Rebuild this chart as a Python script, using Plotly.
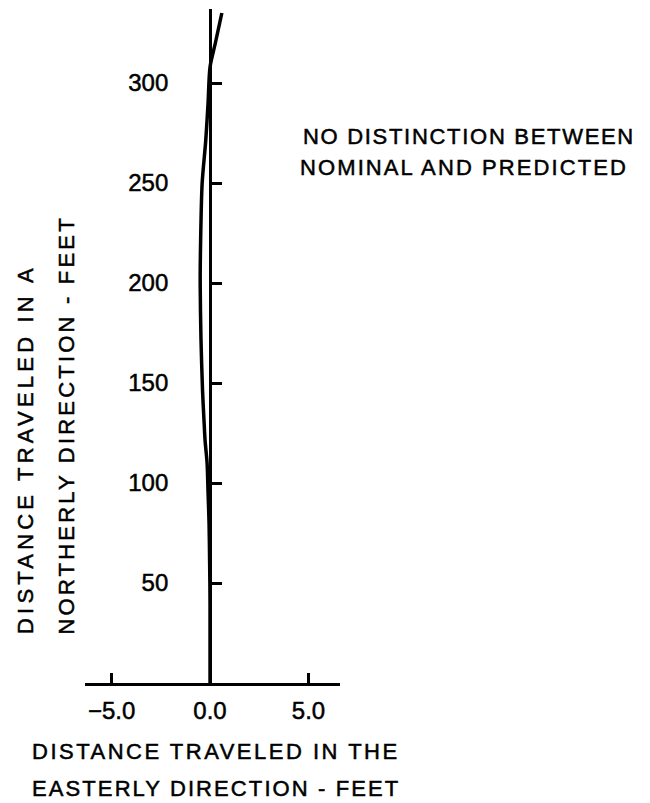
import plotly.graph_objects as go

# Trajectory: northerly distance (ft) vs easterly drift (ft)
north_ft = [0, 40, 60, 80, 95, 110, 121, 130, 146, 172, 200, 220, 250, 271, 290, 308, 320, 335]
east_ft = [0.0, 0.0, -0.02, -0.05, -0.1, -0.15, -0.25, -0.3, -0.38, -0.46, -0.5, -0.48, -0.4,
           -0.22, -0.1, 0.0, 0.27, 0.6]

x_ticks = [-5, 0, 5]
x_tick_text = ["\u22125.0", "0.0", "5.0"]
y_ticks = [50, 100, 150, 200, 250, 300]
y_tick_text = ["50", "100", "150", "200", "250", "300"]

W, H = 650, 803
L, R, T, B = 85, 310, 9, 120
PW, PH = W - L - R, H - T - B
X_RANGE = [-6.35, 6.6]
Y_RANGE = [0, 337]

FONT = "Liberation Sans, Arial, Helvetica, sans-serif"
INK = "stroke:black;stroke-width:0.5px"


def px_x(p):
    return (p - L) / PW


def px_y(p):
    return (H - B - p) / PH


def styled(text, ls=0.0):
    return f'<span style="letter-spacing:{ls}px;{INK}">{text}</span>'


fig = go.Figure()
fig.add_trace(go.Scatter(
    x=east_ft, y=north_ft, mode="lines",
    line=dict(color="black", width=3.5, shape="spline", smoothing=0.8),
    showlegend=False, hoverinfo="skip",
))

axis_pos = (0 - X_RANGE[0]) / (X_RANGE[1] - X_RANGE[0])

fig.update_layout(
    width=W, height=H,
    margin=dict(l=L, r=R, t=T, b=B, pad=0),
    paper_bgcolor="white", plot_bgcolor="white",
    font=dict(family=FONT, color="black"),
    xaxis=dict(
        range=X_RANGE, showgrid=False, zeroline=False,
        showline=True, linecolor="black", linewidth=3,
        ticks="inside", ticklen=10, tickwidth=3, tickcolor="black",
        tickvals=x_ticks, ticktext=[styled(t) for t in x_tick_text],
        tickfont=dict(size=24, family=FONT), ticklabelstandoff=4,
    ),
    yaxis=dict(
        range=Y_RANGE, showgrid=False, zeroline=False,
        anchor="free", position=axis_pos, side="left",
        showline=True, linecolor="black", linewidth=3,
        ticks="inside", ticklen=10, tickwidth=3, tickcolor="black",
        tickvals=y_ticks, ticktext=[styled(t) for t in y_tick_text],
        tickfont=dict(size=24, family=FONT), ticklabelstandoff=36,
    ),
)

ann = []
# x-axis title (two lines)
ann.append(dict(text=styled("DISTANCE TRAVELED IN THE", 2.5), x=px_x(216), y=px_y(751),
                xanchor="center", yanchor="middle"))
ann.append(dict(text=styled("EASTERLY DIRECTION - FEET", 2.1), x=px_x(216), y=px_y(788),
                xanchor="center", yanchor="middle"))
# y-axis title (two rotated lines, start-aligned at the bottom)
ann.append(dict(text=styled("DISTANCE TRAVELED IN A", 4.2), x=px_x(25), y=px_y(636),
                xanchor="center", yanchor="bottom", textangle=-90))
ann.append(dict(text=styled("NORTHERLY DIRECTION - FEET", 3.2), x=px_x(66), y=px_y(637),
                xanchor="center", yanchor="bottom", textangle=-90))
# note
ann.append(dict(text=styled("NO DISTINCTION BETWEEN", 1.7), x=px_x(301), y=px_y(136),
                xanchor="left", yanchor="middle"))
ann.append(dict(text=styled("NOMINAL AND PREDICTED", 2.1), x=px_x(298), y=px_y(167),
                xanchor="left", yanchor="middle"))

for a in ann:
    a.update(xref="paper", yref="paper", showarrow=False,
             font=dict(size=22, family=FONT, color="black"))
fig.update_layout(annotations=ann)

fig.write_html("out.html")
